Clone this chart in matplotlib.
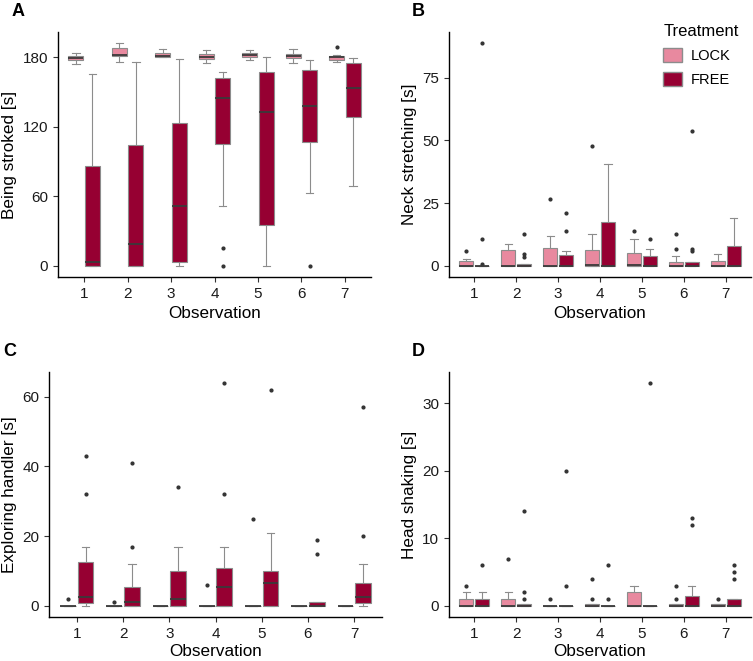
import matplotlib.pyplot as plt
from matplotlib.patches import Patch

plt.rcParams['font.family'] = ['Liberation Sans', 'DejaVu Sans']

OBS = [1, 2, 3, 4, 5, 6, 7]
TREATMENTS = ['LOCK', 'FREE']
COLORS = {'LOCK': '#e8899f', 'FREE': '#960032'}

# box summaries per observation: whisker low, q1, median, q3, whisker high, outliers
# A - Being stroked
a_lock_lo = [174, 176, 180, 175, 177.4, 175, 176]
a_lock_q1 = [177.4, 181, 180, 178.5, 180, 178.8, 177.4]
a_lock_med = [179, 181.4, 181, 180, 181.4, 181, 179.7]
a_lock_q3 = [180.5, 187.4, 183.4, 182.6, 183.4, 182.6, 181]
a_lock_hi = [183.4, 192, 186.9, 185.7, 186, 186.9, 182]
a_lock_out = [[], [], [], [], [], [], [188.3]]
a_free_lo = [0, 0, 0, 51.5, 0, 63, 69]
a_free_q1 = [0, 0, 3.2, 105, 35, 106.4, 128.5]
a_free_med = [2.9, 19, 51.5, 144.3, 133, 137.4, 153.2]
a_free_q3 = [86.5, 103.8, 123.3, 161.6, 166.8, 168.5, 174.8]
a_free_hi = [165.3, 176, 178, 167, 180, 177.4, 179]
a_free_out = [[], [], [], [15, 0], [], [0], []]

# B - Neck stretching
b_lock_lo = [0, 0, 0, 0, 0, 0, 0]
b_lock_q1 = [0, 0, 0, 0, 0, 0, 0]
b_lock_med = [0, 0, 0, 0.4, 0.4, 0, 0]
b_lock_q3 = [2, 6.3, 7, 6.3, 5.1, 1.7, 2.1]
b_lock_hi = [2.9, 8.9, 11.8, 12.9, 10.9, 3.9, 4.9]
b_lock_out = [[6], [], [26.7], [47.9], [13.8], [12.8, 6.9], []]
b_free_lo = [0, 0, 0, 0, 0, 0, 0]
b_free_q1 = [0, 0, 0, 0, 0, 0, 0]
b_free_med = [0, 0, 0, 0, 0, 0, 0]
b_free_q3 = [0, 0.9, 4.3, 17.3, 3.9, 1.5, 8.1]
b_free_hi = [0, 0.9, 5.9, 40.8, 6.9, 1.5, 18.9]
b_free_out = [[88.8, 10.8, 0.9], [12.8, 4.8, 3.7], [20.9, 13.8], [], [10.9],
              [53.9, 6.9, 6.1], []]

# C - Exploring handler
c_lock_lo = [0, 0, 0, 0, 0, 0, 0]
c_lock_q1 = [0, 0, 0, 0, 0, 0, 0]
c_lock_med = [0, 0, 0, 0, 0, 0, 0]
c_lock_q3 = [0, 0, 0, 0, 0, 0, 0]
c_lock_hi = [0, 0, 0, 0, 0, 0, 0]
c_lock_out = [[2], [1], [], [6], [25], [], []]
c_free_lo = [0, 0, 0, 0, 0, 0, 0]
c_free_q1 = [0.8, 0, 0, 0, 0, 0, 0.8]
c_free_med = [2.5, 1, 2, 5.5, 6.5, 0, 2.5]
c_free_q3 = [12.5, 5.3, 10, 11, 10, 1, 6.7]
c_free_hi = [16.9, 12, 16.9, 16.9, 21, 1, 12]
c_free_out = [[42.9, 32], [41, 17], [34], [63.9, 32], [61.9], [18.9, 15],
              [57.1, 20]]

# D - Head shaking
d_lock_lo = [0, 0, 0, 0, 0, 0, 0]
d_lock_q1 = [0, 0, 0, 0, 0, 0, 0]
d_lock_med = [0, 0, 0, 0, 0, 0, 0]
d_lock_q3 = [1, 1, 0, 0.25, 2, 0.25, 0.25]
d_lock_hi = [2, 2, 0, 0.25, 3, 0.25, 0.25]
d_lock_out = [[3], [7], [1], [4, 1], [], [3, 1], [1]]
d_free_lo = [0, 0, 0, 0, 0, 0, 0]
d_free_q1 = [0, 0, 0, 0, 0, 0, 0]
d_free_med = [0, 0, 0, 0, 0, 0, 0]
d_free_q3 = [1, 0.25, 0, 0, 0, 1.5, 1]
d_free_hi = [2, 0.25, 0, 0, 0, 3, 1]
d_free_out = [[6], [14, 2, 1], [20, 3], [6, 1], [33], [13, 12], [6, 5, 4]]

PANELS = [
    ('A', 'Being stroked [s]', [0, 60, 120, 180],
     (a_lock_lo, a_lock_q1, a_lock_med, a_lock_q3, a_lock_hi, a_lock_out),
     (a_free_lo, a_free_q1, a_free_med, a_free_q3, a_free_hi, a_free_out)),
    ('B', 'Neck stretching [s]', [0, 25, 50, 75],
     (b_lock_lo, b_lock_q1, b_lock_med, b_lock_q3, b_lock_hi, b_lock_out),
     (b_free_lo, b_free_q1, b_free_med, b_free_q3, b_free_hi, b_free_out)),
    ('C', 'Exploring handler [s]', [0, 20, 40, 60],
     (c_lock_lo, c_lock_q1, c_lock_med, c_lock_q3, c_lock_hi, c_lock_out),
     (c_free_lo, c_free_q1, c_free_med, c_free_q3, c_free_hi, c_free_out)),
    ('D', 'Head shaking [s]', [0, 10, 20, 30],
     (d_lock_lo, d_lock_q1, d_lock_med, d_lock_q3, d_lock_hi, d_lock_out),
     (d_free_lo, d_free_q1, d_free_med, d_free_q3, d_free_hi, d_free_out)),
]

W, H = 753, 661
# axes boxes in pixels: left, top, right, bottom
AX_PX = [(58, 32, 371, 277), (449, 32, 751, 277),
         (49, 372, 382, 617), (449, 372, 751, 617)]

fig = plt.figure(figsize=(W / 100, H / 100), dpi=100)

OFFSET = 0.19
BOX_W = 0.34


def make_stats(lo, q1, med, q3, hi, out):
    return [dict(whislo=lo[i], q1=q1[i], med=med[i], q3=q3[i],
                 whishi=hi[i], fliers=out[i]) for i in range(len(lo))]


for (label, ylabel, yticks, lock, free), (l, t, r, b) in zip(PANELS, AX_PX):
    ax = fig.add_axes([l / W, 1 - b / H, (r - l) / W, (b - t) / H])
    for trt, data, off in [('LOCK', lock, -OFFSET), ('FREE', free, OFFSET)]:
        stats = make_stats(*data)
        ax.bxp(
            stats,
            positions=[o + off for o in OBS],
            widths=BOX_W,
            capwidths=BOX_W / 2,
            patch_artist=True,
            showfliers=True,
            boxprops=dict(facecolor=COLORS[trt], edgecolor='#8c8c8c', linewidth=0.8),
            medianprops=dict(color='#3a3a3a', linewidth=1.3),
            whiskerprops=dict(color='#8c8c8c', linewidth=0.8),
            capprops=dict(color='#8c8c8c', linewidth=0.8),
            flierprops=dict(marker='o', markersize=2.0, markerfacecolor='#333333',
                            markeredgecolor='#333333', linestyle='none'),
            manage_ticks=False,
        )
    # y limits with 5% expansion like ggplot
    allvals = []
    for d in (lock, free):
        allvals += d[0] + d[4] + [v for o in d[5] for v in o]
    ymin, ymax = min(allvals), max(allvals)
    pad = (ymax - ymin) * 0.05
    ax.set_ylim(ymin - pad, ymax + pad)
    ax.set_xlim(0.4, 7.6)
    ax.set_xticks(OBS)
    ax.set_yticks(yticks)
    ax.tick_params(labelsize=11, length=3.5, width=0.8, color='#333333',
                   labelcolor='#1a1a1a')
    for s in ['top', 'right']:
        ax.spines[s].set_visible(False)
    for s in ['left', 'bottom']:
        ax.spines[s].set_linewidth(1.0)
    ax.set_xlabel('Observation', fontsize=12.3, labelpad=4 if label in 'AB' else 2)
    ax.set_ylabel(ylabel, fontsize=12.3, labelpad=4)
    fig.text((l - 46 if label in 'AC' else l - 37) / W, 1 - (t - 21) / H, label,
             fontsize=13, fontweight='bold', va='center', ha='left')
    if label == 'B':
        handles = [Patch(facecolor=COLORS[tr], edgecolor='#8c8c8c', label=tr)
                   for tr in TREATMENTS]
        leg = ax.legend(handles=handles, title='Treatment', loc='upper left',
                        bbox_to_anchor=((650 - l) / (r - l), 1.085), frameon=False,
                        fontsize=10.5, title_fontsize=12, handlelength=1.3,
                        handleheight=1.1, labelspacing=0.6, handletextpad=0.6)
        leg._legend_box.align = 'left'

fig.savefig('out.png', dpi=100)
